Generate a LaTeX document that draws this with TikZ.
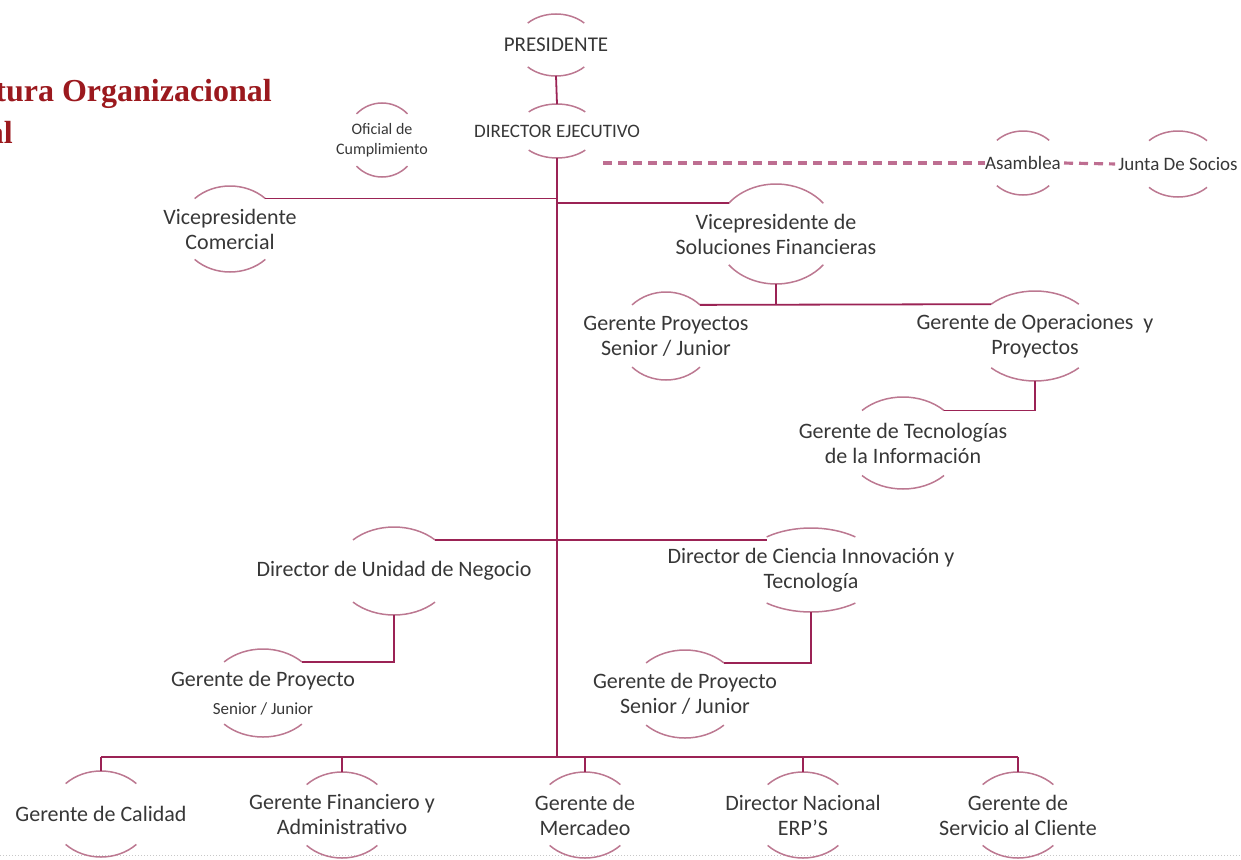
\documentclass[tikz,border=0pt]{standalone}
\usepackage{fontspec}
\setmainfont{Carlito}
\newfontfamily\serifa{Liberation Serif}
\usepackage{xcolor}
\usepackage{tikz}

\definecolor{vino}{RGB}{155,35,85}
\definecolor{rosa}{RGB}{188,120,145}
\definecolor{guion}{RGB}{190,110,145}
\definecolor{texto}{RGB}{55,55,55}
\definecolor{rojo}{RGB}{155,25,30}
\definecolor{gris}{RGB}{200,200,200}

% arcos de arriba y abajo de cada puesto: [angulo]{nodo}{rx}{ry}
\newcommand{\burbuja}[4][45]{%
	\draw[arco] (#2.center) ++(180-#1:#3pt and #4pt) coordinate (#2-nw) arc[start angle=180-#1, end angle=#1, x radius=#3pt, y radius=#4pt] coordinate (#2-ne);
	\draw[arco] (#2.center) ++(180+#1:#3pt and #4pt) coordinate (#2-sw) arc[start angle=180+#1, end angle=360-#1, x radius=#3pt, y radius=#4pt] coordinate (#2-se);
	\path (#2.center) ++(0,#4) coordinate (#2-n) ++(0,-2*#4) coordinate (#2-s);
}

\begin{document}
\begin{tikzpicture}[x=1pt, y=1pt,
	puesto/.style={align=center, text=texto, inner sep=0pt, font=\fontsize{22}{25}\selectfont},
	chico/.style={puesto, font=\fontsize{19}{22}\selectfont},
	mini/.style={puesto, font=\fontsize{16}{20}\selectfont},
	arco/.style={draw=rosa, line width=1.5pt},
	linea/.style={draw=vino, line width=1.8pt},
	tronco/.style={draw=vino, line width=2.6pt},
	guiones/.style={draw=guion, line width=3.2pt, dash pattern=on 9pt off 6pt},
	titulo/.style={text=rojo, inner sep=0pt, font=\serifa\bfseries\fontsize{32}{38}\selectfont}]
	\useasboundingbox (0,0) rectangle (1241,-859);
	\draw[gris, dotted, line width=1pt] (0,-855) -- (1241,-855);

	\node[titulo, anchor=base east] (tit1) at (272,-101) {Estructura Organizacional};
	\node[titulo, anchor=base east] (tit2) at (13,-143) {Actual};

	% direccion
	\node[chico, font=\fontsize{21}{24}\selectfont] (pres) at (556,-45) {PRESIDENTE};
	\node[chico] (dir) at (557,-131) {DIRECTOR EJECUTIVO};
	\node[mini] (ofi) at (382,-140) {Oficial de\\Cumplimiento};
	\node[chico] (asa) at (1023,-163) {Asamblea};
	\node[chico] (jun) at (1178,-164) {Junta De Socios};
	\node[puesto] (vpc) at (230,-229) {Vicepresidente\\Comercial};
	\node[puesto] (vps) at (776,-234) {Vicepresidente de\\Soluciones Financieras};
	\node[puesto] (gps) at (666,-336) {Gerente Proyectos\\Senior / Junior};
	\node[puesto] (gop) at (1035,-336) {Gerente de Operaciones~ y\\Proyectos};
	\node[puesto] (gti) at (903,-443) {Gerente de Tecnologías\\de la Información};
	\node[puesto] (dun) at (394,-571) {Director de Unidad de Negocio};
	\node[puesto] (dci) at (811,-570) {Director de Ciencia Innovación y\\Tecnología};
	\node[puesto] (gpi) at (263,-693) {Gerente de Proyecto\\[3pt]{\fontsize{17}{20}\selectfont Senior / Junior}};
	\node[puesto] (gpd) at (685,-694) {Gerente de Proyecto\\Senior / Junior};
	% gerencias de abajo
	\node[puesto] (gca) at (101,-814) {Gerente de Calidad};
	\node[puesto] (gfa) at (342,-815) {Gerente Financiero y\\Administrativo};
	\node[puesto] (gme) at (585,-815) {Gerente de\\Mercadeo};
	\node[puesto] (dne) at (803,-815) {Director Nacional\\ERP’S};
	\node[puesto] (gsc) at (1018,-815) {Gerente de\\Servicio al Cliente};

	\burbuja{pres}{40}{31}
	\burbuja{dir}{40}{27}
	\burbuja{ofi}{36}{37}
	\burbuja{asa}{37}{32}
	\burbuja{jun}{41}{33}
	\burbuja{vpc}{50}{43}
	\burbuja[38]{vps}{60}{50}
	\burbuja{gps}{48}{44}
	\burbuja{gop}{62}{45}
	\burbuja{gti}{58}{46}
	\burbuja{dun}{58}{44}
	\burbuja[52]{dci}{72}{42}
	\burbuja{gpi}{55}{44}
	\burbuja{gpd}{55}{44}
	\foreach \n in {gca,gfa,gme,dne,gsc}
		\burbuja{\n}{50}{43};

	% lineas
	\coordinate (bus) at (557,-757);
	\coordinate (guion) at (603,-163);
	\draw[linea] (pres-s) -- (dir-n);
	\draw[tronco] (dir-s) -- (bus);
	\draw[linea] (vpc-ne) -- (vpc-ne -| dir-s);
	\draw[linea] (dir-s |- vps-nw) -- (vps-nw);
	\draw[linea] (vps-s) -- (vps-s |- gps-ne);
	\draw[linea] (gps-ne) -- (gop-nw);
	\draw[linea] (gop-s) |- (gti-ne);
	\draw[linea] (dun-ne) -- (dci-nw |- dun-ne);
	\draw[linea] (dun-s) |- (gpi-ne);
	\draw[linea] (dci-s) |- (gpd-ne);
	\draw[tronco] (gca-n |- bus) -- (gsc-n |- bus);
	\foreach \n in {gca,gfa,gme,dne,gsc}
		\draw[linea] (\n-n |- bus) -- (\n-n);
	\draw[guiones] (guion) -- (asa.west);
	\draw[guiones, shorten <=3pt, shorten >=3pt] (asa.east) -- (jun.west);
\end{tikzpicture}
\end{document}
